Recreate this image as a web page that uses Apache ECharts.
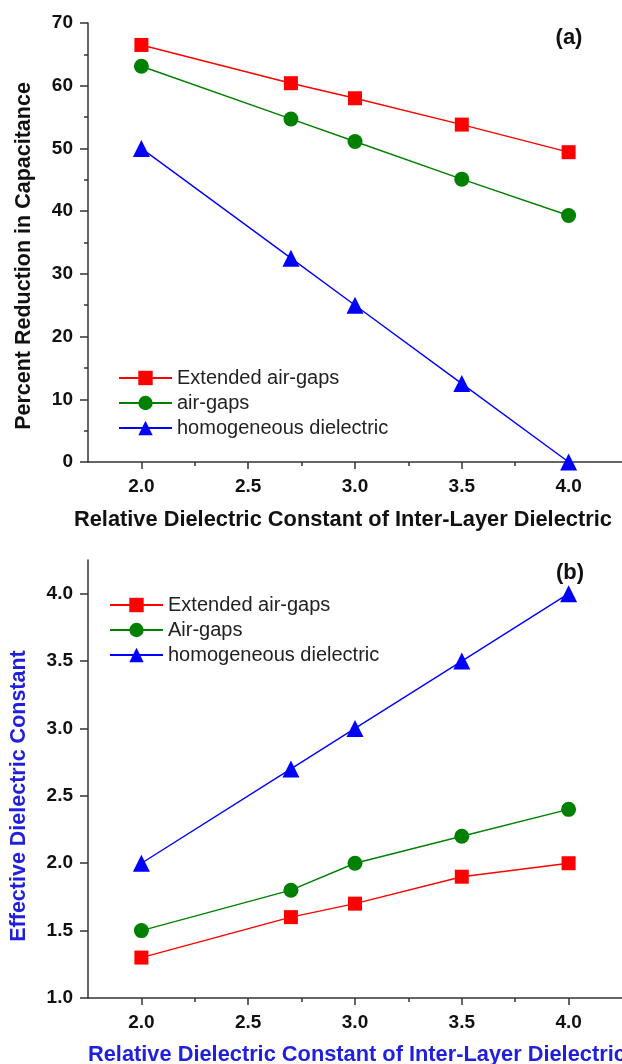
<!DOCTYPE html>
<html>
<head>
<meta charset="utf-8">
<script src="https://cdn.jsdelivr.net/npm/echarts@6/dist/echarts.min.js"></script>
<style>
  html, body { margin: 0; padding: 0; background: #fff; }
  #main { width: 622px; height: 1064px; }
</style>
</head>
<body>
<div id="main"></div>
<script>
// relative dielectric constant of the inter-layer dielectric
const kValues = [2.0, 2.7, 3.0, 3.5, 4.0]

// (a) percent reduction in capacitance
const reductionExtended = [66.5, 60.4, 58.0, 53.8, 49.4]
const reductionAirGaps = [63.1, 54.7, 51.1, 45.1, 39.3]
const reductionHomogeneous = [50.0, 32.5, 25.0, 12.5, 0.0]

// (b) effective dielectric constant
const effExtended = [1.3, 1.6, 1.7, 1.9, 2.0]
const effAirGaps = [1.5, 1.8, 2.0, 2.2, 2.4]
const effHomogeneous = [2.0, 2.7, 3.0, 3.5, 4.0]

// tick positions
const xMajorTicks = [2.0, 2.5, 3.0, 3.5, 4.0]
const xMinorTicks = [2.25, 2.75, 3.25, 3.75]
const yMajorTicksB = [1.0, 1.5, 2.0, 2.5, 3.0, 3.5, 4.0]
const yMinorTicksB = [1.25, 1.75, 2.25, 2.75, 3.25, 3.75, 4.25]

const FONT = '"Liberation Sans", Arial, sans-serif'
const AXIS_COLOR = '#333'
const BLUE_TEXT = '#1f1fdd'
const X_TITLE_FONT = 'bold 21.8px ' + FONT
const Y_TITLE_FONT = 'bold 21.5px ' + FONT

const pairs = (ys) => kValues.map((x, i) => [x, ys[i]])

const lineSeries = (name, ys, color, symbol, size, xIndex, yIndex) => ({
  name: name,
  type: 'line',
  xAxisIndex: xIndex,
  yAxisIndex: yIndex,
  data: pairs(ys),
  symbol: symbol,
  symbolSize: size,
  lineStyle: { color: color, width: 1.4 },
  itemStyle: { color: color },
  animation: false
})

const majorX = (gridIndex) => ({
  type: 'value',
  gridIndex: gridIndex,
  position: 'bottom',
  min: 1.75,
  max: 4.25,
  splitLine: { show: false },
  axisLine: { lineStyle: { color: AXIS_COLOR, width: 1.5 } },
  axisTick: { customValues: xMajorTicks, length: 7, lineStyle: { color: AXIS_COLOR, width: 1.5 } },
  axisLabel: {
    customValues: xMajorTicks,
    formatter: (v) => v.toFixed(1),
    margin: 15,
    color: '#111',
    fontFamily: FONT,
    fontWeight: 'bold',
    fontSize: 19
  }
})

const minorX = (gridIndex) => ({
  type: 'value',
  gridIndex: gridIndex,
  position: 'bottom',
  min: 1.75,
  max: 4.25,
  splitLine: { show: false },
  axisLine: { show: false },
  axisTick: { customValues: xMinorTicks, length: 4, lineStyle: { color: AXIS_COLOR, width: 1.5 } },
  axisLabel: { show: false }
})

const yLabel = {
  margin: 15,
  color: '#111',
  fontFamily: FONT,
  fontWeight: 'bold',
  fontSize: 19
}

const legendBase = {
  orient: 'vertical',
  padding: 0,
  itemWidth: 53,
  itemHeight: 18,
  itemGap: 5,
  textStyle: { fontFamily: FONT, fontSize: 20, color: '#222' }
}

const chart = echarts.init(document.getElementById('main'), null, { renderer: 'canvas' })
chart.setOption({
  backgroundColor: '#fff',
  animation: false,
  grid: [
    { left: 88, right: -9, top: 23, height: 439 },
    { left: 88, right: -5, top: 560, height: 438 }
  ],
  xAxis: [majorX(0), minorX(0), majorX(1), minorX(1)],
  yAxis: [
    {
      type: 'value',
      gridIndex: 0,
      min: 0,
      max: 70,
      interval: 10,
      splitLine: { show: false },
      axisLine: { show: true, lineStyle: { color: AXIS_COLOR, width: 1.5 } },
      axisTick: { show: true, length: 8, lineStyle: { color: AXIS_COLOR, width: 1.5 } },
      minorTick: { show: true, splitNumber: 2, length: 4, lineStyle: { color: AXIS_COLOR, width: 1.5 } },
      axisLabel: yLabel
    },
    {
      type: 'value',
      gridIndex: 1,
      min: 1.0,
      max: 4.25,
      splitLine: { show: false },
      axisLine: { show: true, lineStyle: { color: AXIS_COLOR, width: 1.5 } },
      axisTick: { show: true, customValues: yMajorTicksB, length: 8, lineStyle: { color: AXIS_COLOR, width: 1.5 } },
      axisLabel: Object.assign({}, yLabel, {
        customValues: yMajorTicksB,
        formatter: (v) => v.toFixed(1)
      })
    },
    {
      type: 'value',
      gridIndex: 1,
      min: 1.0,
      max: 4.25,
      splitLine: { show: false },
      axisLine: { show: false },
      axisTick: { show: true, customValues: yMinorTicksB, length: 4, lineStyle: { color: AXIS_COLOR, width: 1.5 } },
      axisLabel: { show: false }
    }
  ],
  legend: [
    Object.assign({}, legendBase, {
      left: 118,
      top: 368,
      data: ['Extended air-gaps', 'air-gaps', 'homogeneous dielectric']
    }),
    Object.assign({}, legendBase, {
      left: 109,
      top: 595,
      data: ['Extended air-gaps', 'Air-gaps', 'homogeneous dielectric']
    })
  ],
  series: [
    lineSeries('Extended air-gaps', reductionExtended, '#ff0000', 'rect', 14, 0, 0),
    lineSeries('air-gaps', reductionAirGaps, '#008000', 'circle', 15, 0, 0),
    lineSeries('homogeneous dielectric', reductionHomogeneous, '#0000ff', 'triangle', 17, 0, 0),
    lineSeries('Extended air-gaps', effExtended, '#ff0000', 'rect', 14, 2, 1),
    lineSeries('Air-gaps', effAirGaps, '#008000', 'circle', 15, 2, 1),
    lineSeries('homogeneous dielectric', effHomogeneous, '#0000ff', 'triangle', 17, 2, 1)
  ],
  graphic: [
    { type: 'text', x: 74, y: 520, style: { text: 'Relative Dielectric Constant of Inter-Layer Dielectric', font: X_TITLE_FONT, fill: '#111', textVerticalAlign: 'middle' } },
    { type: 'text', x: 88, y: 1055, style: { text: 'Relative Dielectric Constant of Inter-Layer Dielectric', font: X_TITLE_FONT, fill: BLUE_TEXT, textVerticalAlign: 'middle' } },
    { type: 'text', x: 24, y: 256, rotation: Math.PI / 2, style: { text: 'Percent Reduction in Capacitance', font: Y_TITLE_FONT, fill: '#111', textAlign: 'center', textVerticalAlign: 'middle' } },
    { type: 'text', x: 19, y: 796, rotation: Math.PI / 2, style: { text: 'Effective Dielectric Constant', font: Y_TITLE_FONT, fill: BLUE_TEXT, textAlign: 'center', textVerticalAlign: 'middle' } },
    { type: 'text', x: 569, y: 38, style: { text: '(a)', font: 'bold 22px ' + FONT, fill: '#111', textAlign: 'center', textVerticalAlign: 'middle' } },
    { type: 'text', x: 570, y: 573, style: { text: '(b)', font: 'bold 22px ' + FONT, fill: '#111', textAlign: 'center', textVerticalAlign: 'middle' } }
  ]
})
</script>
</body>
</html>
